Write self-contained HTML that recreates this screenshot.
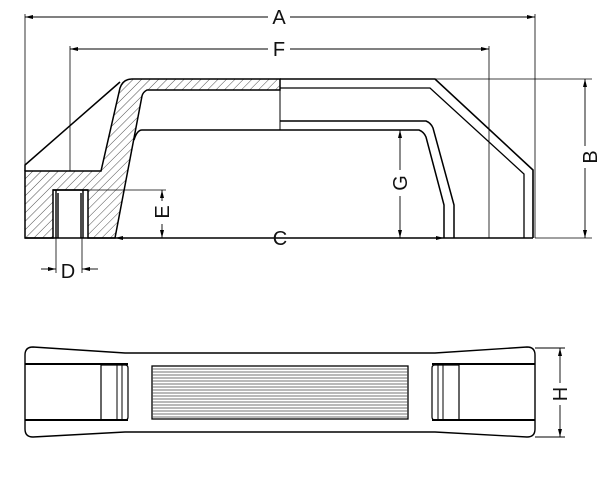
<!DOCTYPE html>
<html><head><style>html,body{margin:0;padding:0;background:#fff}svg{display:block}</style></head>
<body>
<svg width="600" height="500" viewBox="0 0 600 500" xmlns="http://www.w3.org/2000/svg" font-family="Liberation Sans, sans-serif">
<defs>
<pattern id="h" width="6" height="6" patternUnits="userSpaceOnUse" patternTransform="rotate(45)">
<line x1="0" y1="0" x2="0" y2="6" stroke="#222" stroke-width="0.8"/>
</pattern>
<marker id="ar" markerWidth="8" markerHeight="6" refX="8" refY="3" orient="auto-start-reverse" markerUnits="userSpaceOnUse">
<path d="M0,1 L8,3 L0,5 Z" fill="#000"/></marker>
</defs>
<g fill="none" stroke="#000">
<path d="M25,171 L101,171 L120,88 Q123,79 132,79 L280,79 L280,90 L147,90 Q143,92 142,96 L115,238 L88,238 L88,190 L53,190 L53,238 L25,238 Z" fill="url(#h)" stroke-width="1.5"/>
<path d="M53,190 L88,190 M56,190 L56,238 M83,190 L83,238 M58,193 L58,238 M81,193 L81,238" stroke-width="1.4"/>
<path d="M25,171 L25,165 L120,82" stroke-width="1.5"/>
<path d="M134,140 Q137,130 142,130 L280,130" stroke-width="1.5"/>
<line x1="280" y1="79" x2="280" y2="130" stroke-width="1"/>
<path d="M280,79 L435,79 L533,170 L533,238" stroke-width="1.6"/>
<path d="M280,88 L430,88 L524,174 L524,238" stroke-width="1.3"/>
<path d="M280,121 L426,121 Q431,123 433,128 L454,205 L454,238" stroke-width="1.5"/>
<path d="M280,130 L419,130 Q424,132 426,137 L444,205 L444,238" stroke-width="1.5"/>
<line x1="25" y1="238" x2="533" y2="238" stroke-width="1.4"/>
<g stroke-width="0.8">
<line x1="25" y1="14" x2="25" y2="171"/>
<line x1="535" y1="14" x2="535" y2="238"/>
<line x1="70" y1="46" x2="70" y2="171"/>
<line x1="489" y1="46" x2="489" y2="238"/>
<line x1="435" y1="79" x2="592" y2="79"/>
<line x1="535" y1="238" x2="592" y2="238"/>
<line x1="88" y1="190" x2="166" y2="190"/>
<line x1="56" y1="238" x2="56" y2="273"/>
<line x1="82" y1="238" x2="82" y2="273"/>
</g>
<g stroke-width="0.9">
<line x1="25" y1="17" x2="268" y2="17" marker-start="url(#ar)"/>
<line x1="290" y1="17" x2="535" y2="17" marker-end="url(#ar)"/>
<line x1="70" y1="49" x2="268" y2="49" marker-start="url(#ar)"/>
<line x1="290" y1="49" x2="489" y2="49" marker-end="url(#ar)"/>
<line x1="115" y1="238" x2="268" y2="238" marker-start="url(#ar)"/>
<line x1="292" y1="238" x2="444" y2="238" marker-end="url(#ar)"/>
<line x1="585" y1="79" x2="585" y2="146" marker-start="url(#ar)"/>
<line x1="585" y1="168" x2="585" y2="238" marker-end="url(#ar)"/>
<line x1="400" y1="130" x2="400" y2="170" marker-start="url(#ar)"/>
<line x1="400" y1="196" x2="400" y2="238" marker-end="url(#ar)"/>
<line x1="162" y1="190" x2="162" y2="201" marker-start="url(#ar)"/>
<line x1="162" y1="224" x2="162" y2="238" marker-end="url(#ar)"/>
<line x1="41" y1="269" x2="56" y2="269" marker-end="url(#ar)"/>
<line x1="98" y1="269" x2="82" y2="269" marker-end="url(#ar)"/>
<line x1="560" y1="348" x2="560" y2="383" marker-start="url(#ar)"/>
<line x1="560" y1="405" x2="560" y2="437" marker-end="url(#ar)"/>
<line x1="535" y1="348" x2="565" y2="348"/>
<line x1="535" y1="437" x2="565" y2="437"/>
</g>
</g>
<g font-size="20" fill="#111" text-anchor="middle">
<text x="279" y="24">A</text>
<text x="279" y="56">F</text>
<text x="280" y="245">C</text>
<text x="68" y="278">D</text>
<text transform="translate(590,157) rotate(-90)" y="7">B</text>
<text transform="translate(400,183) rotate(-90)" y="7">G</text>
<text transform="translate(162,212) rotate(-90)" y="7">E</text>
<text transform="translate(560,394) rotate(-90)" y="7">H</text>
</g>
<g fill="none" stroke="#000">
<path d="M33,347 Q25,347 25,355 L25,429 Q25,437 33,437 L125,432 L435,432 L527,437 Q535,437 535,429 L535,355 Q535,347 527,347 L435,353 L125,353 Z" stroke-width="1.4"/>
<line x1="25" y1="364" x2="128" y2="364" stroke-width="2"/>
<line x1="25" y1="420" x2="128" y2="420" stroke-width="2"/>
<line x1="432" y1="364" x2="535" y2="364" stroke-width="2"/>
<line x1="432" y1="420" x2="535" y2="420" stroke-width="2"/>
<path d="M101,365 L125,365 Q128,365 128,368 L128,417 Q128,420 125,420 L101,420 Z" stroke-width="1.2"/>
<line x1="117" y1="365" x2="117" y2="420" stroke-width="1"/>
<line x1="122" y1="365" x2="122" y2="420" stroke-width="1"/>
<path d="M459,365 L435,365 Q432,365 432,368 L432,417 Q432,420 435,420 L459,420 Z" stroke-width="1.2"/>
<line x1="438" y1="365" x2="438" y2="420" stroke-width="1"/>
<line x1="443" y1="365" x2="443" y2="420" stroke-width="1"/>
<rect x="152" y="366" width="256" height="53" stroke-width="1.3"/>
<g stroke="#444" stroke-width="0.8">
<line x1="152" y1="369" x2="408" y2="369"/><line x1="152" y1="372" x2="408" y2="372"/>
<line x1="152" y1="375" x2="408" y2="375"/><line x1="152" y1="378" x2="408" y2="378"/>
<line x1="152" y1="381" x2="408" y2="381"/><line x1="152" y1="384" x2="408" y2="384"/>
<line x1="152" y1="387" x2="408" y2="387"/><line x1="152" y1="390" x2="408" y2="390"/>
<line x1="152" y1="393" x2="408" y2="393"/><line x1="152" y1="396" x2="408" y2="396"/>
<line x1="152" y1="399" x2="408" y2="399"/><line x1="152" y1="402" x2="408" y2="402"/>
<line x1="152" y1="405" x2="408" y2="405"/><line x1="152" y1="408" x2="408" y2="408"/>
<line x1="152" y1="411" x2="408" y2="411"/><line x1="152" y1="414" x2="408" y2="414"/>
<line x1="152" y1="417" x2="408" y2="417"/>
</g>
</g>
</svg>
</body></html>
